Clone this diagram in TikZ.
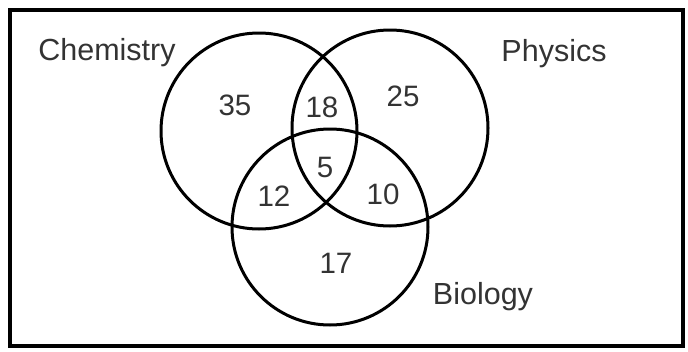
\documentclass[tikz,border=0pt]{standalone}
\usepackage{fontspec}
\setmainfont{Liberation Sans}
\usetikzlibrary{positioning}

\tikzset{
    set/.style={circle, draw, line width=3pt, inner sep=0pt, minimum size=196pt},
    setname/.style={anchor=base, inner sep=0pt, text=black!80, font=\fontsize{30.5}{32}\selectfont},
    count/.style={inner sep=0pt, text=black!80, font=\fontsize{29.5}{31}\selectfont}
}

\begin{document}
\begin{tikzpicture}[x=1pt, y=-1pt]
    \useasboundingbox (0, 0) rectangle (688, 351);
    \draw[line width=3.5pt] (10, 10) rectangle (683, 346);
    % the three sets
    \node[set] (chem) at (259, 131) {};
    \node[set] (phys) at (390, 128) {};
    \node[set] (bio) at (330, 227) {};
    \node[setname] (chemname) at (107, 60) {Chemistry};
    \node[setname] (physname) at (554, 61) {Physics};
    \node[setname] (bioname) at (483, 304) {Biology};
    % counts in each region
    \node[count] (conly) at (235, 105) {35};
    \node[count] (pc) at (322, 107) {18};
    \node[count] (ponly) at (403, 96) {25};
    \node[count] (all) at (325, 167) {5};
    \node[count] (cb) at (274, 196) {12};
    \node[count] (pb) at (383, 194) {10};
    \node[count] (bonly) at (336, 263) {17};
\end{tikzpicture}
\end{document}
